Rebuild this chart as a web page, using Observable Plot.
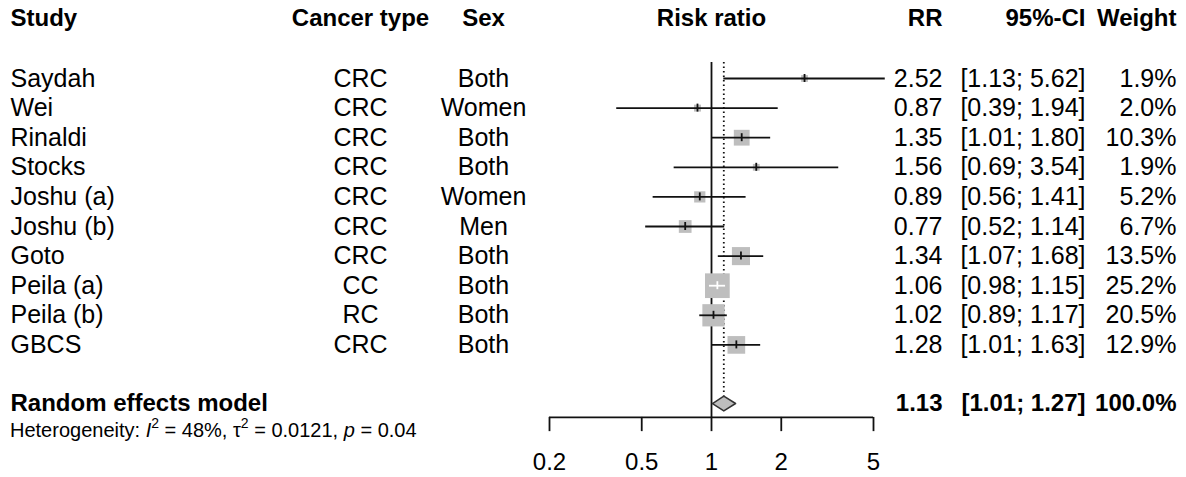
<!DOCTYPE html>
<html><head><meta charset="utf-8">
<script src="https://cdn.jsdelivr.net/npm/d3@7"></script>
<script src="https://cdn.jsdelivr.net/npm/@observablehq/plot@0.6"></script>
<style>html,body{margin:0;padding:0;background:#fff} svg{display:block}</style>
</head><body><div id="chart"></div>
<script>
// ---------- data ----------
const studies = ["Saydah","Wei","Rinaldi","Stocks","Joshu (a)","Joshu (b)","Goto","Peila (a)","Peila (b)","GBCS"];
const cancerTypes = ["CRC","CRC","CRC","CRC","CRC","CRC","CRC","CC","RC","CRC"];
const sexes = ["Both","Women","Both","Both","Women","Men","Both","Both","Both","Both"];
const rr = [2.52,0.87,1.35,1.56,0.89,0.77,1.34,1.06,1.02,1.28];
const lower = [1.13,0.39,1.01,0.69,0.56,0.52,1.07,0.98,0.89,1.01];
const upper = [5.62,1.94,1.80,3.54,1.41,1.14,1.68,1.15,1.17,1.63];
const weights = [1.9,2.0,10.3,1.9,5.2,6.7,13.5,25.2,20.5,12.9];
const pooledLabel = "Random effects model";
const pooledRR = 1.13, pooledLower = 1.01, pooledUpper = 1.27, pooledWeight = 100.0;
const headers = ["Study","Cancer type","Sex","Risk ratio","RR","95%-CI","Weight"];
const axisTicks = [0.2,0.5,1,2,5];
const hetI2 = "48%", hetTau2 = "0.0121", hetP = "0.04";

// ---------- layout ----------
const W = 1186, H = 477, ML = 549, MR = 313;
const FONT = "'Liberation Sans', Arial, Helvetica, sans-serif";
const FS = 25, FS_BOLD = 24, FS_HET = 20, FS_AXIS = 24;
const rowTop = 78, rowStep = 29.6;
const headerRow = -2.03, reRow = 10.98, hetRow = 11.88;
const axisRow = 11.45, tickEndRow = 11.93, labelRow = 12.97, refTopRow = -0.54;
const diamondHalf = 0.25, ciTickHalf = 0.135;
const frameL = ML, frameR = W - MR;
// column pixel positions
const colStudy = 10, colCancer = 360, colSex = 483, colRR = 942, colCI = 1085, colW = 1176;

const fmt2 = v => v.toFixed(2);
const fmtCI = (l,u) => `[${fmt2(l)}; ${fmt2(u)}]`;
const fmtW = w => `${w.toFixed(1)}%`;

const rScaleMax = 27.76; // r at weight 100
const pxPerLog = (frameR - frameL) / (Math.log10(5) - Math.log10(0.2));
const rows = studies.map((s, i) => {
  const half = rScaleMax * Math.sqrt(weights[i] / 100) * Math.sqrt(Math.PI) / 2;
  const inside = (Math.log10(rr[i]) - Math.log10(lower[i])) * pxPerLog < half &&
                 (Math.log10(upper[i]) - Math.log10(rr[i])) * pxPerLog < half;
  return {i, study: s, type: cancerTypes[i], sex: sexes[i], rr: rr[i], lo: lower[i], hi: upper[i], w: weights[i],
          col: inside ? "white" : "#111"};
});
const diamond = [
  {x: pooledLower, y: reRow}, {x: pooledRR, y: reRow - diamondHalf},
  {x: pooledUpper, y: reRow}, {x: pooledRR, y: reRow + diamondHalf}, {x: pooledLower, y: reRow}
];

const base = {fontSize: FS, fill: "#000"};
const bold = {fontSize: FS_BOLD, fontWeight: "bold"};
const colLeft = (px) => ({frameAnchor: "left", textAnchor: "start", dx: px - frameL, ...base});
const colMid = (px) => ({frameAnchor: "left", textAnchor: "middle", dx: px - frameL, ...base});
const colRight = (px) => ({frameAnchor: "right", textAnchor: "end", dx: px - frameR, ...base});

function hetMark(index, scales) {
  const y = scales.y(hetRow) + 7;
  const t = d3.create("svg:text").attr("x", colStudy).attr("y", y).attr("text-anchor", "start")
    .attr("font-size", FS_HET).attr("font-family", FONT).attr("fill", "#000");
  t.append("tspan").text("Heterogeneity: ");
  t.append("tspan").attr("font-style", "italic").text("I");
  t.append("tspan").attr("font-size", 14).attr("dy", -9).text("2");
  t.append("tspan").attr("dy", 9).text(` = ${hetI2}, \u03C4`);
  t.append("tspan").attr("font-size", 14).attr("dy", -9).text("2");
  t.append("tspan").attr("dy", 9).text(` = ${hetTau2}, `);
  t.append("tspan").attr("font-style", "italic").text("p");
  t.append("tspan").text(` = ${hetP}`);
  return t.node();
}

const chart = Plot.plot({
  width: W, height: H,
  marginLeft: ML, marginRight: MR, marginTop: 0, marginBottom: 0,
  style: {fontFamily: FONT, background: "#fff"},
  x: {type: "log", domain: [0.2, 5], axis: null},
  y: {type: "linear", domain: [0, 9], range: [rowTop, rowTop + 9 * rowStep], axis: null},
  r: {type: "sqrt", domain: [0, 100], range: [0, rScaleMax]},
  marks: [
    // headers
    Plot.text([headers[0]], {...colLeft(colStudy), ...bold, y: headerRow, text: d => d}),
    Plot.text([headers[1]], {...colMid(colCancer), ...bold, y: headerRow, text: d => d}),
    Plot.text([headers[2]], {...colMid(colSex), ...bold, y: headerRow, text: d => d}),
    Plot.text([headers[3]], {...base, ...bold, x: 1, y: headerRow, text: d => d}),
    Plot.text([headers[4]], {...colRight(colRR), ...bold, y: headerRow, text: d => d}),
    Plot.text([headers[5]], {...colRight(colCI), ...bold, y: headerRow, text: d => d}),
    Plot.text([headers[6]], {...colRight(colW), ...bold, y: headerRow, text: d => d}),
    // study rows text
    Plot.text(rows, {...colLeft(colStudy), y: "i", text: "study"}),
    Plot.text(rows, {...colMid(colCancer), y: "i", text: "type"}),
    Plot.text(rows, {...colMid(colSex), y: "i", text: "sex"}),
    Plot.text(rows, {...colRight(colRR), y: "i", text: d => fmt2(d.rr)}),
    Plot.text(rows, {...colRight(colCI), y: "i", text: d => fmtCI(d.lo, d.hi)}),
    Plot.text(rows, {...colRight(colW), y: "i", text: d => fmtW(d.w)}),
    // pooled row text
    Plot.text([pooledLabel], {...colLeft(colStudy), ...bold, y: reRow, text: d => d}),
    Plot.text([pooledRR], {...colRight(colRR), ...bold, y: reRow, text: d => fmt2(d)}),
    Plot.text([[pooledLower, pooledUpper]], {...colRight(colCI), ...bold, y: reRow, text: d => fmtCI(d[0], d[1])}),
    Plot.text([pooledWeight], {...colRight(colW), ...bold, y: reRow, text: d => fmtW(d)}),
    // reference lines
    Plot.ruleX([1], {x: d => d, y1: refTopRow, y2: axisRow, stroke: "#111", strokeWidth: 1.8}),
    Plot.ruleX([pooledRR], {x: d => d, y1: refTopRow, y2: reRow - diamondHalf, stroke: "#111", strokeWidth: 1.8, strokeDasharray: "1.5,3"}),
    // squares
    Plot.dot(rows, {x: "rr", y: "i", r: "w", symbol: "square", fill: "#bebebe", stroke: "none"}),
    // CI lines and ticks
    Plot.ruleY(rows, {y: "i", x1: "lo", x2: "hi", stroke: "col", strokeWidth: 1.8}),
    Plot.ruleX(rows, {x: "rr", y1: d => d.i - ciTickHalf, y2: d => d.i + ciTickHalf, stroke: "col", strokeWidth: 1.8}),
    // diamond
    Plot.line(diamond, {x: "x", y: "y", fill: "#bebebe", stroke: "#333", strokeWidth: 1.5, curve: "linear"}),
    // axis
    Plot.ruleY([axisRow], {y: d => d, x1: axisTicks[0], x2: axisTicks[axisTicks.length - 1], stroke: "#111", strokeWidth: 1.8}),
    Plot.ruleX(axisTicks, {x: d => d, y1: axisRow, y2: tickEndRow, stroke: "#111", strokeWidth: 1.8}),
    Plot.text(axisTicks, {...base, fontSize: FS_AXIS, x: d => d, y: labelRow, text: d => String(d)}),
    // heterogeneity
    hetMark
  ]
});
document.getElementById("chart").appendChild(chart);
</script>
</body></html>
